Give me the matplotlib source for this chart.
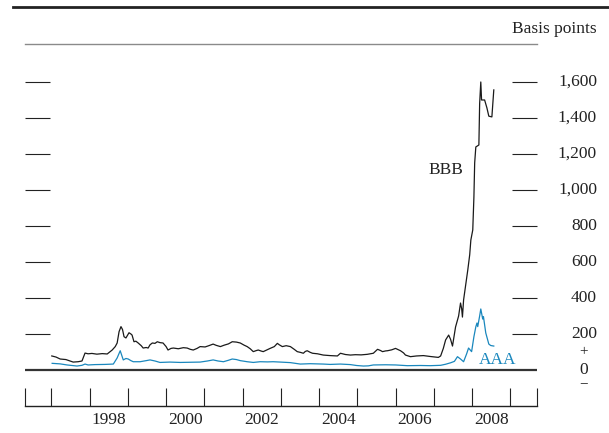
import numpy as np
import matplotlib
matplotlib.use("Agg")
import matplotlib.pyplot as plt
from matplotlib.lines import Line2D
from matplotlib.transforms import blended_transform_factory

plt.rcParams['font.family'] = ['Liberation Serif', 'DejaVu Serif']

# BBB spread, decimal year vs basis points
bbb_t = [1997.01, 1997.12, 1997.23, 1997.38, 1997.57, 1997.70, 1997.80, 1997.88, 1997.96,
         1998.06, 1998.19, 1998.33, 1998.46, 1998.59, 1998.67, 1998.72, 1998.77, 1998.82,
         1998.86, 1998.90, 1998.95, 1999.03, 1999.08, 1999.11, 1999.16, 1999.21, 1999.27,
         1999.35, 1999.40, 1999.48, 1999.53, 1999.58, 1999.64, 1999.71, 1999.77, 1999.84,
         1999.92, 2000.00, 2000.05, 2000.13, 2000.19, 2000.32, 2000.45, 2000.55, 2000.63,
         2000.71, 2000.81, 2000.89, 2001.02, 2001.13, 2001.23, 2001.31, 2001.42, 2001.52,
         2001.63, 2001.73, 2001.84, 2001.94, 2002.04, 2002.12, 2002.20, 2002.28, 2002.36,
         2002.41, 2002.49, 2002.54, 2002.62, 2002.72, 2002.83, 2002.91, 2002.96, 2003.04,
         2003.14, 2003.25, 2003.35, 2003.43, 2003.51, 2003.59, 2003.64, 2003.69, 2003.77,
         2003.83, 2003.96, 2004.11, 2004.29, 2004.48, 2004.56, 2004.69, 2004.82, 2004.95,
         2005.10, 2005.26, 2005.42, 2005.53, 2005.61, 2005.66, 2005.74, 2005.79, 2005.90,
         2006.00, 2006.08, 2006.13, 2006.21, 2006.26, 2006.39, 2006.55, 2006.73, 2006.91,
         2007.12, 2007.18, 2007.25, 2007.31, 2007.39, 2007.44, 2007.49, 2007.57, 2007.65,
         2007.70, 2007.73, 2007.75, 2007.78, 2007.89, 2007.94, 2007.97, 2008.02, 2008.05,
         2008.07, 2008.10, 2008.18, 2008.20, 2008.23, 2008.25, 2008.33, 2008.39, 2008.44,
         2008.52, 2008.57]
bbb_v = [78, 72, 61, 58, 44, 46, 50, 94, 90,
         92, 88, 91, 89, 111, 130, 150, 213, 241,
         225, 185, 178, 207, 200, 194, 157, 160, 150,
         135, 122, 125, 122, 140, 150, 148, 157, 152,
         150, 130, 111, 120, 122, 118, 124, 122, 115,
         111, 120, 130, 128, 136, 144, 137, 130, 138,
         145, 157, 155, 150, 138, 130, 118, 102, 108,
         111, 105, 102, 110, 120, 130, 148, 140, 130,
         135, 130, 115, 102, 98, 93, 103, 107, 98,
         93, 90, 83, 80, 78, 93, 86, 83, 85,
         84, 87, 93, 115, 108, 102, 106, 107, 112,
         120, 112, 107, 95, 83, 74, 78, 80, 75,
         70, 78, 120, 167, 194, 170, 133, 239, 300,
         372, 340, 294, 389, 556, 640, 722, 778, 961,
         1150, 1239, 1250, 1480, 1600, 1500, 1500, 1456, 1410,
         1406, 1556]

# AAA spread
aaa_t = [1997.02, 1997.23, 1997.41, 1997.54, 1997.67, 1997.80, 1997.88, 1997.96, 1998.14,
         1998.40, 1998.62, 1998.72, 1998.80, 1998.88, 1998.95, 1999.01, 1999.08, 1999.14,
         1999.32, 1999.48, 1999.58, 1999.71, 1999.84, 2000.10, 2000.37, 2000.63, 2000.89,
         2001.08, 2001.23, 2001.36, 2001.50, 2001.63, 2001.73, 2001.84, 2001.94, 2002.12,
         2002.28, 2002.46, 2002.65, 2002.80, 2002.99, 2003.25, 2003.51, 2003.77, 2004.11,
         2004.29, 2004.56, 2004.82, 2004.98, 2005.16, 2005.29, 2005.42, 2005.74, 2006.00,
         2006.31, 2006.65, 2006.91, 2007.18, 2007.31, 2007.44, 2007.54, 2007.62, 2007.70,
         2007.78, 2007.86, 2007.91, 2007.99, 2008.05, 2008.10, 2008.13, 2008.15, 2008.20,
         2008.23, 2008.28, 2008.30, 2008.36, 2008.44, 2008.49, 2008.57]
aaa_v = [37, 34, 28, 25, 22, 26, 33, 28, 30,
         31, 33, 67, 107, 56, 64, 61, 52, 46,
         46, 52, 56, 50, 42, 44, 42, 43, 44,
         50, 56, 50, 46, 54, 61, 58, 52, 46,
         42, 46, 45, 46, 44, 41, 33, 35, 33,
         31, 33, 30, 25, 22, 23, 28, 29, 28,
         24, 25, 24, 26, 32, 40, 48, 74, 61,
         46, 90, 122, 102, 185, 240, 261, 241, 300,
         339, 283, 296, 206, 144, 136, 133]

y_ticks = [200, 400, 600, 800, 1000, 1200, 1400, 1600]
year_labels = [1998, 2000, 2002, 2004, 2006, 2008]
year_ticks = list(range(1997, 2010))

blue = '#1a87bd'
W, H = 609, 433
fig = plt.figure(figsize=(W / 100, H / 100), dpi=100)
ax = fig.add_axes([25 / W, (H - 406) / H, (537 - 25) / W, (406 - 44) / H])

x0, x1 = 1996.31, 2009.70
ax.set_xlim(x0, x1)
ax.set_ylim(-200, 1811)

ax.plot(bbb_t, bbb_v, color='#1a1a1a', lw=0.9)
ax.plot(aaa_t, aaa_v, color=blue, lw=0.9)
ax.axhline(0, color='#333333', lw=1.6)

# spines
ax.spines['left'].set_visible(False)
ax.spines['right'].set_visible(False)
ax.spines['top'].set_color('#8a8a8a')
ax.spines['top'].set_linewidth(1.0)
ax.spines['bottom'].set_color('#222222')
ax.spines['bottom'].set_linewidth(1.0)

# y ticks both sides, no labels
ax.set_yticks(y_ticks)
ax.tick_params(axis='y', which='major', left=True, right=True, direction='in',
               length=18, width=0.8, color='#222222', labelleft=False, labelright=False)

# year ticks along the bottom line
ax.set_xticks([x0] + year_ticks + [x1])
ax.set_xticks([y + 0.5 for y in year_labels], minor=True)
ax.set_xticklabels([str(y) for y in year_labels], minor=True)
ax.tick_params(axis='x', which='major', direction='in', length=13, width=0.8,
               color='#222222', labelbottom=False)
ax.tick_params(axis='x', which='minor', length=0, pad=4, labelsize=12.5, labelcolor='#222222')

# right-side value labels
tr = blended_transform_factory(fig.transFigure, ax.transData)
for v in y_ticks:
    ax.text(597 / W, v, f'{v:,}', transform=tr, ha='right', va='center',
            fontsize=12.5, color='#222222')
ax.text(584 / W, 0, '0', transform=tr, ha='center', va='center', fontsize=12.5, color='#222222')
ax.text(584 / W, 100, '+', transform=tr, ha='center', va='center', fontsize=11, color='#222222')
ax.text(584 / W, -78, '\u2212', transform=tr, ha='center', va='center', fontsize=11, color='#222222')

# series labels
ax.text(2007.31, 1111, 'BBB', ha='center', va='center', fontsize=12.5, color='#222222')
ax.text(2008.67, 55, 'AAA', ha='center', va='center', fontsize=12.5, color=blue)

# header
fig.text(597 / W, 1 - 29 / H, 'Basis points', ha='right', va='center', fontsize=12.5, color='#222222')
fig.add_artist(Line2D([13 / W, 1], [1 - 7 / H, 1 - 7 / H], color='#222222', lw=2,
                      transform=fig.transFigure))

fig.savefig('out.png', dpi=100)
